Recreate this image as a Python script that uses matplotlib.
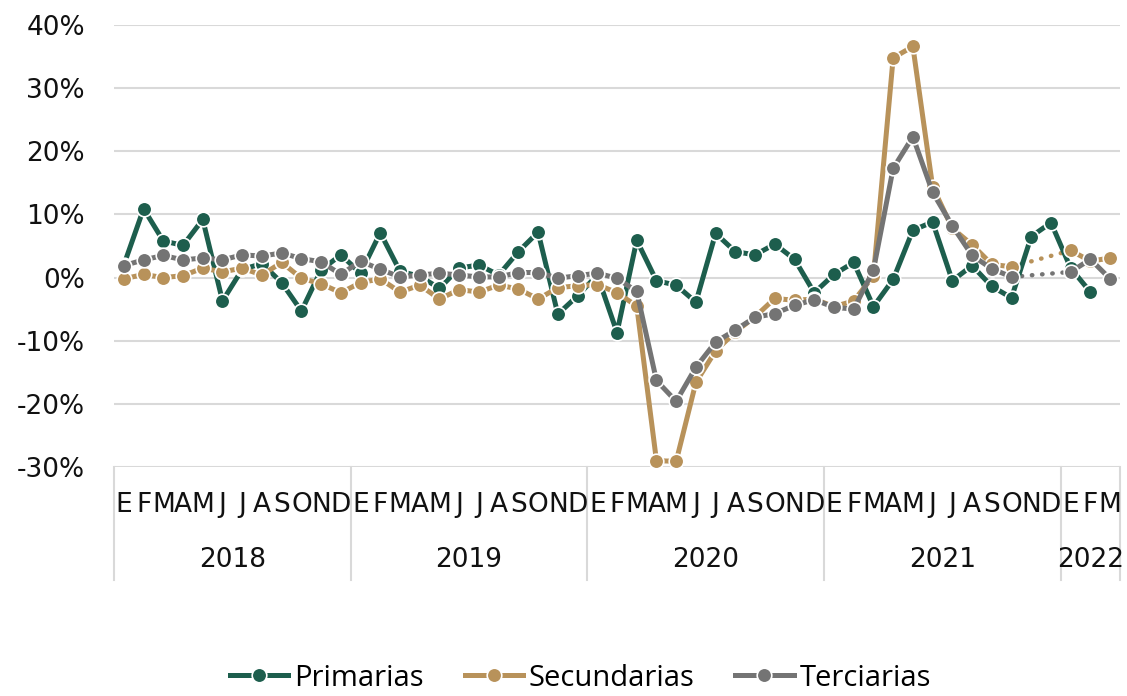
import numpy as np
import matplotlib
matplotlib.use('Agg')
import matplotlib.pyplot as plt
from matplotlib.ticker import FuncFormatter

nan = np.nan

# monthly variation (%), Jan 2018 - Mar 2022
years = ['2018', '2019', '2020', '2021', '2022']
months_per_year = [12, 12, 12, 12, 3]
month_letters = ['E', 'F', 'M', 'A', 'M', 'J', 'J', 'A', 'S', 'O', 'N', 'D']

primarias = [2.0, 10.9, 5.8, 5.1, 9.2, -3.7, 1.3, 2.2, -0.8, -5.3, 1.2, 3.6,
             0.7, 7.1, 1.0, 0.2, -1.7, 1.5, 2.0, 0.4, 4.1, 7.2, -5.8, -2.9,
             0.4, -8.7, 5.9, -0.5, -1.2, -3.9, 7.0, 4.1, 3.6, 5.3, 2.9, -2.4,
             0.5, 2.4, -4.6, -0.3, 7.5, 8.8, -0.5, 1.9, -1.4, -3.2, 6.5, 8.7,
             1.5, -2.3, nan]

secundarias = [-0.2, 0.5, 0.0, 0.3, 1.5, 0.9, 1.5, 0.4, 2.4, -0.1, -1.0, -2.4,
               -0.8, -0.2, -2.3, -1.2, -3.4, -1.9, -2.3, -1.2, -1.8, -3.4, -1.6, -1.3,
               -1.1, -2.4, -4.5, -29.0, -29.1, -16.6, -11.6, -8.6, -6.2, -3.3, -3.6, -3.4,
               -4.6, -3.7, 0.3, 34.8, 36.6, 14.4, 7.8, 5.2, 2.1, 1.7, nan, nan,
               4.3, 2.6, 3.1]

terciarias = [1.9, 2.8, 3.5, 2.8, 3.1, 2.8, 3.6, 3.4, 3.9, 3.0, 2.5, 0.5,
              2.6, 1.3, 0.1, 0.4, 0.7, 0.4, 0.1, 0.1, 0.8, 0.8, -0.1, 0.3,
              0.7, -0.1, -2.2, -16.3, -19.6, -14.2, -10.2, -8.3, -6.3, -5.7, -4.4, -3.5,
              -4.7, -5.0, 1.2, 17.3, 22.3, 13.5, 8.2, 3.5, 1.4, 0.1, nan, nan,
              0.9, 2.9, -0.2]

series = [
    ('Primarias', primarias, '#1d5e4d'),
    ('Secundarias', secundarias, '#b8925a'),
    ('Terciarias', terciarias, '#747474'),
]

W, H = 1127, 696
fig = plt.figure(figsize=(W / 100, H / 100), dpi=100)
ax = fig.add_axes([114 / W, 1 - 467 / H, (1120 - 114) / W, (467 - 25) / H])

x = np.arange(len(primarias))
handles = []
for name, vals, color in series:
    vals = np.array(vals, dtype=float)
    line, = ax.plot(x, vals, color=color, lw=3.6, marker='o', markersize=10.5,
                    markeredgecolor='white', markeredgewidth=1.2,
                    solid_joinstyle='round', label=name, clip_on=False)
    handles.append(line)
    # dotted bridge over missing months
    miss = np.where(np.isnan(vals))[0]
    if len(miss) and miss[-1] < len(vals) - 1:
        a, b = miss[0] - 1, miss[-1] + 1
        ax.plot([a, b], [vals[a], vals[b]], color=color, lw=3.2,
                linestyle=(0, (0.1, 2.2)), dash_capstyle='round', zorder=1.5)

ax.set_xlim(-0.5, len(x) - 0.5)
ax.set_ylim(-30, 40)
ax.set_yticks(np.arange(-30, 41, 10))
ax.yaxis.set_major_formatter(FuncFormatter(lambda v, p: f'{v:.0f}%'))
ax.grid(axis='y', color='#d9d9d9', lw=1.5)
ax.set_axisbelow(True)
for s in ax.spines.values():
    s.set_visible(False)
ax.tick_params(axis='y', length=0, pad=21, labelsize=19, labelcolor='#111111')
ax.set_xticks([])

# month letters and year groups under the axis
trans = ax.get_xaxis_transform()
start = 0
bounds = [-0.5]
for yr, n in zip(years, months_per_year):
    for k in range(n):
        ax.text(start + k, -0.086, month_letters[k], transform=trans,
                ha='center', va='center', fontsize=19, color='#111111')
    ax.text(start + (n - 1) / 2, -0.21, yr, transform=trans,
            ha='center', va='center', fontsize=19, color='#111111')
    start += n
    bounds.append(start - 0.5)

for b in bounds:
    ax.plot([b, b], [0, -0.256], transform=trans, color='#d9d9d9', lw=1.5,
            clip_on=False, zorder=0)

# legend sits at the very bottom edge, as in the original
fig.legend(handles=handles, loc='center', bbox_to_anchor=(0.515, 1 - 678 / H),
           ncol=3, frameon=False, handlelength=2.0, handletextpad=0.2,
           columnspacing=1.4, borderpad=0.1, prop={'family': 'Open Sans', 'size': 21})

fig.savefig('out.png', dpi=100, facecolor='white')
